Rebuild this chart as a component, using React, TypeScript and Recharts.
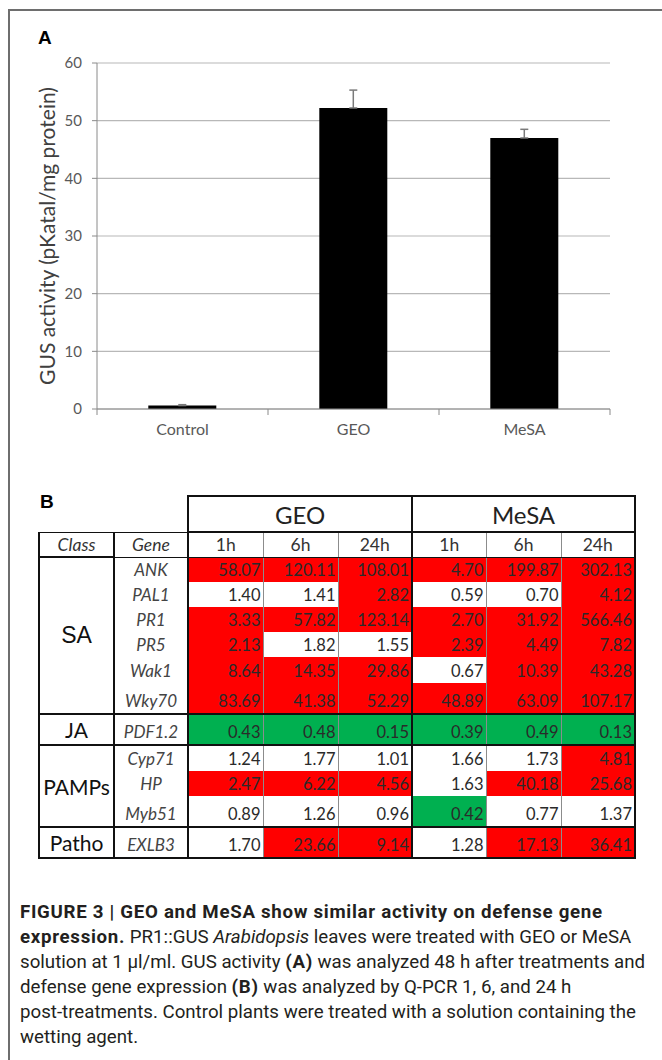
import React from "react";
import { BarChart, Bar, XAxis, YAxis, CartesianGrid, ErrorBar } from "recharts";

const FONT = "Lato, 'Open Sans', sans-serif";
const CAPTION_FONT = "'Liberation Sans Narrow', Roboto, sans-serif";
const AXIS = "#8a8a8a";
const GRID = "#b8b8b8";
const TICK = "#595959";
const RED = "#ff0000";
const GREEN = "#00b050";

// panel A
const treatments = ["Control", "GEO", "MeSA"];
const gusActivity = [0.6, 52.2, 47.0];
const gusError = [0.15, 3.1, 1.5];
const yTicks = [0, 10, 20, 30, 40, 50, 60];

// panel B
const groups = ["GEO", "MeSA"];
const timePoints = ["1h", "6h", "24h"];
const genes = ["ANK", "PAL1", "PR1", "PR5", "Wak1", "Wky70", "PDF1.2", "Cyp71", "HP", "Myb51", "EXLB3"];
const geneClass = ["SA", "SA", "SA", "SA", "SA", "SA", "JA", "PAMPs", "PAMPs", "PAMPs", "Patho"];
const geoFold = [
  [58.07, 120.11, 108.01],
  [1.4, 1.41, 2.82],
  [3.33, 57.82, 123.14],
  [2.13, 1.82, 1.55],
  [8.64, 14.35, 29.86],
  [83.69, 41.38, 52.29],
  [0.43, 0.48, 0.15],
  [1.24, 1.77, 1.01],
  [2.47, 6.22, 4.56],
  [0.89, 1.26, 0.96],
  [1.7, 23.66, 9.14],
];
const mesaFold = [
  [4.7, 199.87, 302.13],
  [0.59, 0.7, 4.12],
  [2.7, 31.92, 566.46],
  [2.39, 4.49, 7.82],
  [0.67, 10.39, 43.28],
  [48.89, 63.09, 107.17],
  [0.39, 0.49, 0.13],
  [1.66, 1.73, 4.81],
  [1.63, 40.18, 25.68],
  [0.42, 0.77, 1.37],
  [1.28, 17.13, 36.41],
];

const ROW_H = [25, 25, 25, 25, 26, 31, 31, 26, 25, 31, 31];
const COL_W = [75, 74, 75, 75, 74, 74, 75, 74];

const barData = treatments.map((name, i) => ({
  name,
  value: gusActivity[i],
  err: [0, gusError[i]],
}));

const cellColor = (v: number) => (v >= 2 ? RED : v <= 0.5 ? GREEN : "#fff");

const TICK_MARGIN = 15;

// category label plus Excel-style tick marks on the category boundaries
function CategoryTick({ x, y, payload, index, visibleTicksCount }: any) {
  const half = payload.offset || 0;
  const axisY = y - TICK_MARGIN;
  const last = index === visibleTicksCount - 1;
  return (
    <g>
      <line x1={x - half} x2={x - half} y1={axisY} y2={axisY + 6} stroke={AXIS} />
      {last && <line x1={x + half} x2={x + half} y1={axisY} y2={axisY + 6} stroke={AXIS} />}
      <text x={x} y={y} dy="0.71em" textAnchor="middle" fontSize={16} fill={TICK} fontFamily={FONT}>
        {payload.value}
      </text>
    </g>
  );
}

function GusChart() {
  return (
    <BarChart
      width={662}
      height={460}
      data={barData}
      margin={{ top: 63, right: 52, bottom: 11, left: 0 }}
      barCategoryGap="30%"
    >
      <CartesianGrid vertical={false} stroke={GRID} strokeWidth={1.2} />
      <XAxis
        dataKey="name"
        stroke={AXIS}
        tickLine={false}
        tickSize={0}
        tickMargin={TICK_MARGIN}
        height={40}
        tick={<CategoryTick />}
      />
      <YAxis
        domain={[0, 60]}
        ticks={yTicks}
        width={97}
        stroke={AXIS}
        tickSize={5}
        tickMargin={10}
        tick={{ fontSize: 15, fill: TICK, fontFamily: FONT }}
        label={({ viewBox }: any) => (
          <text
            x={viewBox.x + 46}
            y={viewBox.y + viewBox.height / 2}
            transform={`rotate(-90 ${viewBox.x + 46} ${viewBox.y + viewBox.height / 2})`}
            textAnchor="middle"
            dominantBaseline="central"
            fontSize={21}
            fontFamily={FONT}
            fill="#404040"
          >
            GUS activity (pKatal/mg protein)
          </text>
        )}
      />
      <Bar dataKey="value" fill="#000" isAnimationActive={false}>
        <ErrorBar dataKey="err" width={4} stroke="#7a7a7a" strokeWidth={1.5} direction="y" />
      </Bar>
    </BarChart>
  );
}

const black = "2px solid #111";
const gray = "1px solid #8c8c8c";

function GeneTable() {
  const isGroupEnd = (i: number) => i === genes.length - 1 || geneClass[i + 1] !== geneClass[i];
  const isGroupStart = (i: number) => i === 0 || geneClass[i - 1] !== geneClass[i];
  const span = (i: number) => geneClass.filter((c) => c === geneClass[i]).length;
  const headCell: React.CSSProperties = {
    fontStyle: "italic",
    fontSize: 17.5,
    color: "#333",
    textAlign: "center",
    padding: 0,
    borderTop: "1.5px solid #111",
    borderBottom: "1.5px solid #111",
  };
  return (
    <table
      style={{
        position: "absolute",
        left: 38,
        top: 495,
        width: 596,
        borderCollapse: "collapse",
        tableLayout: "fixed",
        fontFamily: FONT,
      }}
    >
      <colgroup>
        {COL_W.map((w, i) => (
          <col key={i} style={{ width: w }} />
        ))}
      </colgroup>
      <tbody>
        <tr style={{ height: 36 }}>
          <td colSpan={2} style={{ padding: 0 }} />
          {groups.map((g) => (
            <td
              key={g}
              colSpan={3}
              style={{ border: black, textAlign: "center", fontSize: 24, color: "#222", padding: 0 }}
            >
              {g}
            </td>
          ))}
        </tr>
        <tr style={{ height: 25 }}>
          <td style={{ ...headCell, borderLeft: black, borderRight: black }}>Class</td>
          <td style={{ ...headCell, borderRight: black }}>Gene</td>
          {groups.map((g) =>
            timePoints.map((t, j) => (
              <td
                key={g + t}
                style={{
                  ...headCell,
                  fontStyle: "normal",
                  borderLeft: j === 0 ? black : gray,
                  borderRight: j === 2 ? black : gray,
                }}
              >
                {t}
              </td>
            ))
          )}
        </tr>
        {genes.map((gene, i) => {
          const values = [...geoFold[i], ...mesaFold[i]];
          const bottom = isGroupEnd(i) ? black : "none";
          return (
            <tr key={gene} style={{ height: ROW_H[i] }}>
              {isGroupStart(i) && (
                <td
                  rowSpan={span(i)}
                  style={{
                    border: black,
                    textAlign: "center",
                    verticalAlign: "middle",
                    padding: 0,
                    color: "#111",
                    fontSize: geneClass[i] === "SA" ? 23 : 21,
                    fontFamily: geneClass[i] === "SA" ? "'Liberation Sans', Arial, sans-serif" : FONT,
                  }}
                >
                  {geneClass[i]}
                </td>
              )}
              <td
                style={{
                  fontStyle: "italic",
                  fontSize: 17,
                  color: "#444",
                  textAlign: "center",
                  verticalAlign: "bottom",
                  padding: "0 0 2px 0",
                  borderRight: black,
                  borderBottom: bottom,
                }}
              >
                {gene}
              </td>
              {values.map((v, j) => (
                <td
                  key={j}
                  style={{
                    background: cellColor(v),
                    fontSize: 16.5,
                    color: "#2a2a2a",
                    textAlign: "right",
                    verticalAlign: "bottom",
                    padding: "0 2px 2px 0",
                    borderLeft: j % 3 === 0 ? black : gray,
                    borderRight: j % 3 === 2 ? black : gray,
                    borderBottom: bottom,
                  }}
                >
                  {v.toFixed(2)}
                </td>
              ))}
            </tr>
          );
        })}
      </tbody>
    </table>
  );
}

const captionLines = [
  <>
    <b>FIGURE 3 | GEO and MeSA show similar activity on defense gene</b>
  </>,
  <>
    <b>expression.</b> PR1::GUS <i>Arabidopsis</i> leaves were treated with GEO or MeSA
  </>,
  <>
    solution at 1 µl/ml. GUS activity <b>(A)</b> was analyzed 48 h after treatments and
  </>,
  <>
    defense gene expression <b>(B)</b> was analyzed by Q-PCR 1, 6, and 24 h
  </>,
  <>post-treatments. Control plants were treated with a solution containing the</>,
  <>wetting agent.</>,
];

export default function App() {
  return (
    <div
      style={{
        position: "absolute",
        left: 0,
        top: 0,
        width: 662,
        height: 1060,
        background: "#fff",
        overflow: "hidden",
      }}
    >
      <div
        style={{
          position: "absolute",
          left: 8,
          top: 9,
          width: 660,
          height: 1060,
          borderLeft: "2px solid #6e6e6e",
          borderTop: "2px solid #6e6e6e",
        }}
      />
      <div style={{ position: "absolute", left: 0, top: 0 }}>
        <GusChart />
      </div>
      <div
        style={{
          position: "absolute",
          left: 38,
          top: 27,
          fontFamily: "'Liberation Sans', Arial, sans-serif",
          fontWeight: 700,
          fontSize: 19,
          color: "#000",
        }}
      >
        A
      </div>
      <div
        style={{
          position: "absolute",
          left: 40,
          top: 491,
          fontFamily: "'Liberation Sans', Arial, sans-serif",
          fontWeight: 700,
          fontSize: 19,
          color: "#000",
        }}
      >
        B
      </div>
      <GeneTable />
      <style>{".cap b{letter-spacing:0.7px}"}</style>
      <div
        className="cap"
        style={{
          position: "absolute",
          left: 20,
          top: 900,
          fontFamily: CAPTION_FONT,
          fontSize: 18.7,
          lineHeight: "25px",
          color: "#231f20",
          whiteSpace: "nowrap",
        }}
      >
        {captionLines.map((l, i) => (
          <div key={i}>{l}</div>
        ))}
      </div>
    </div>
  );
}
